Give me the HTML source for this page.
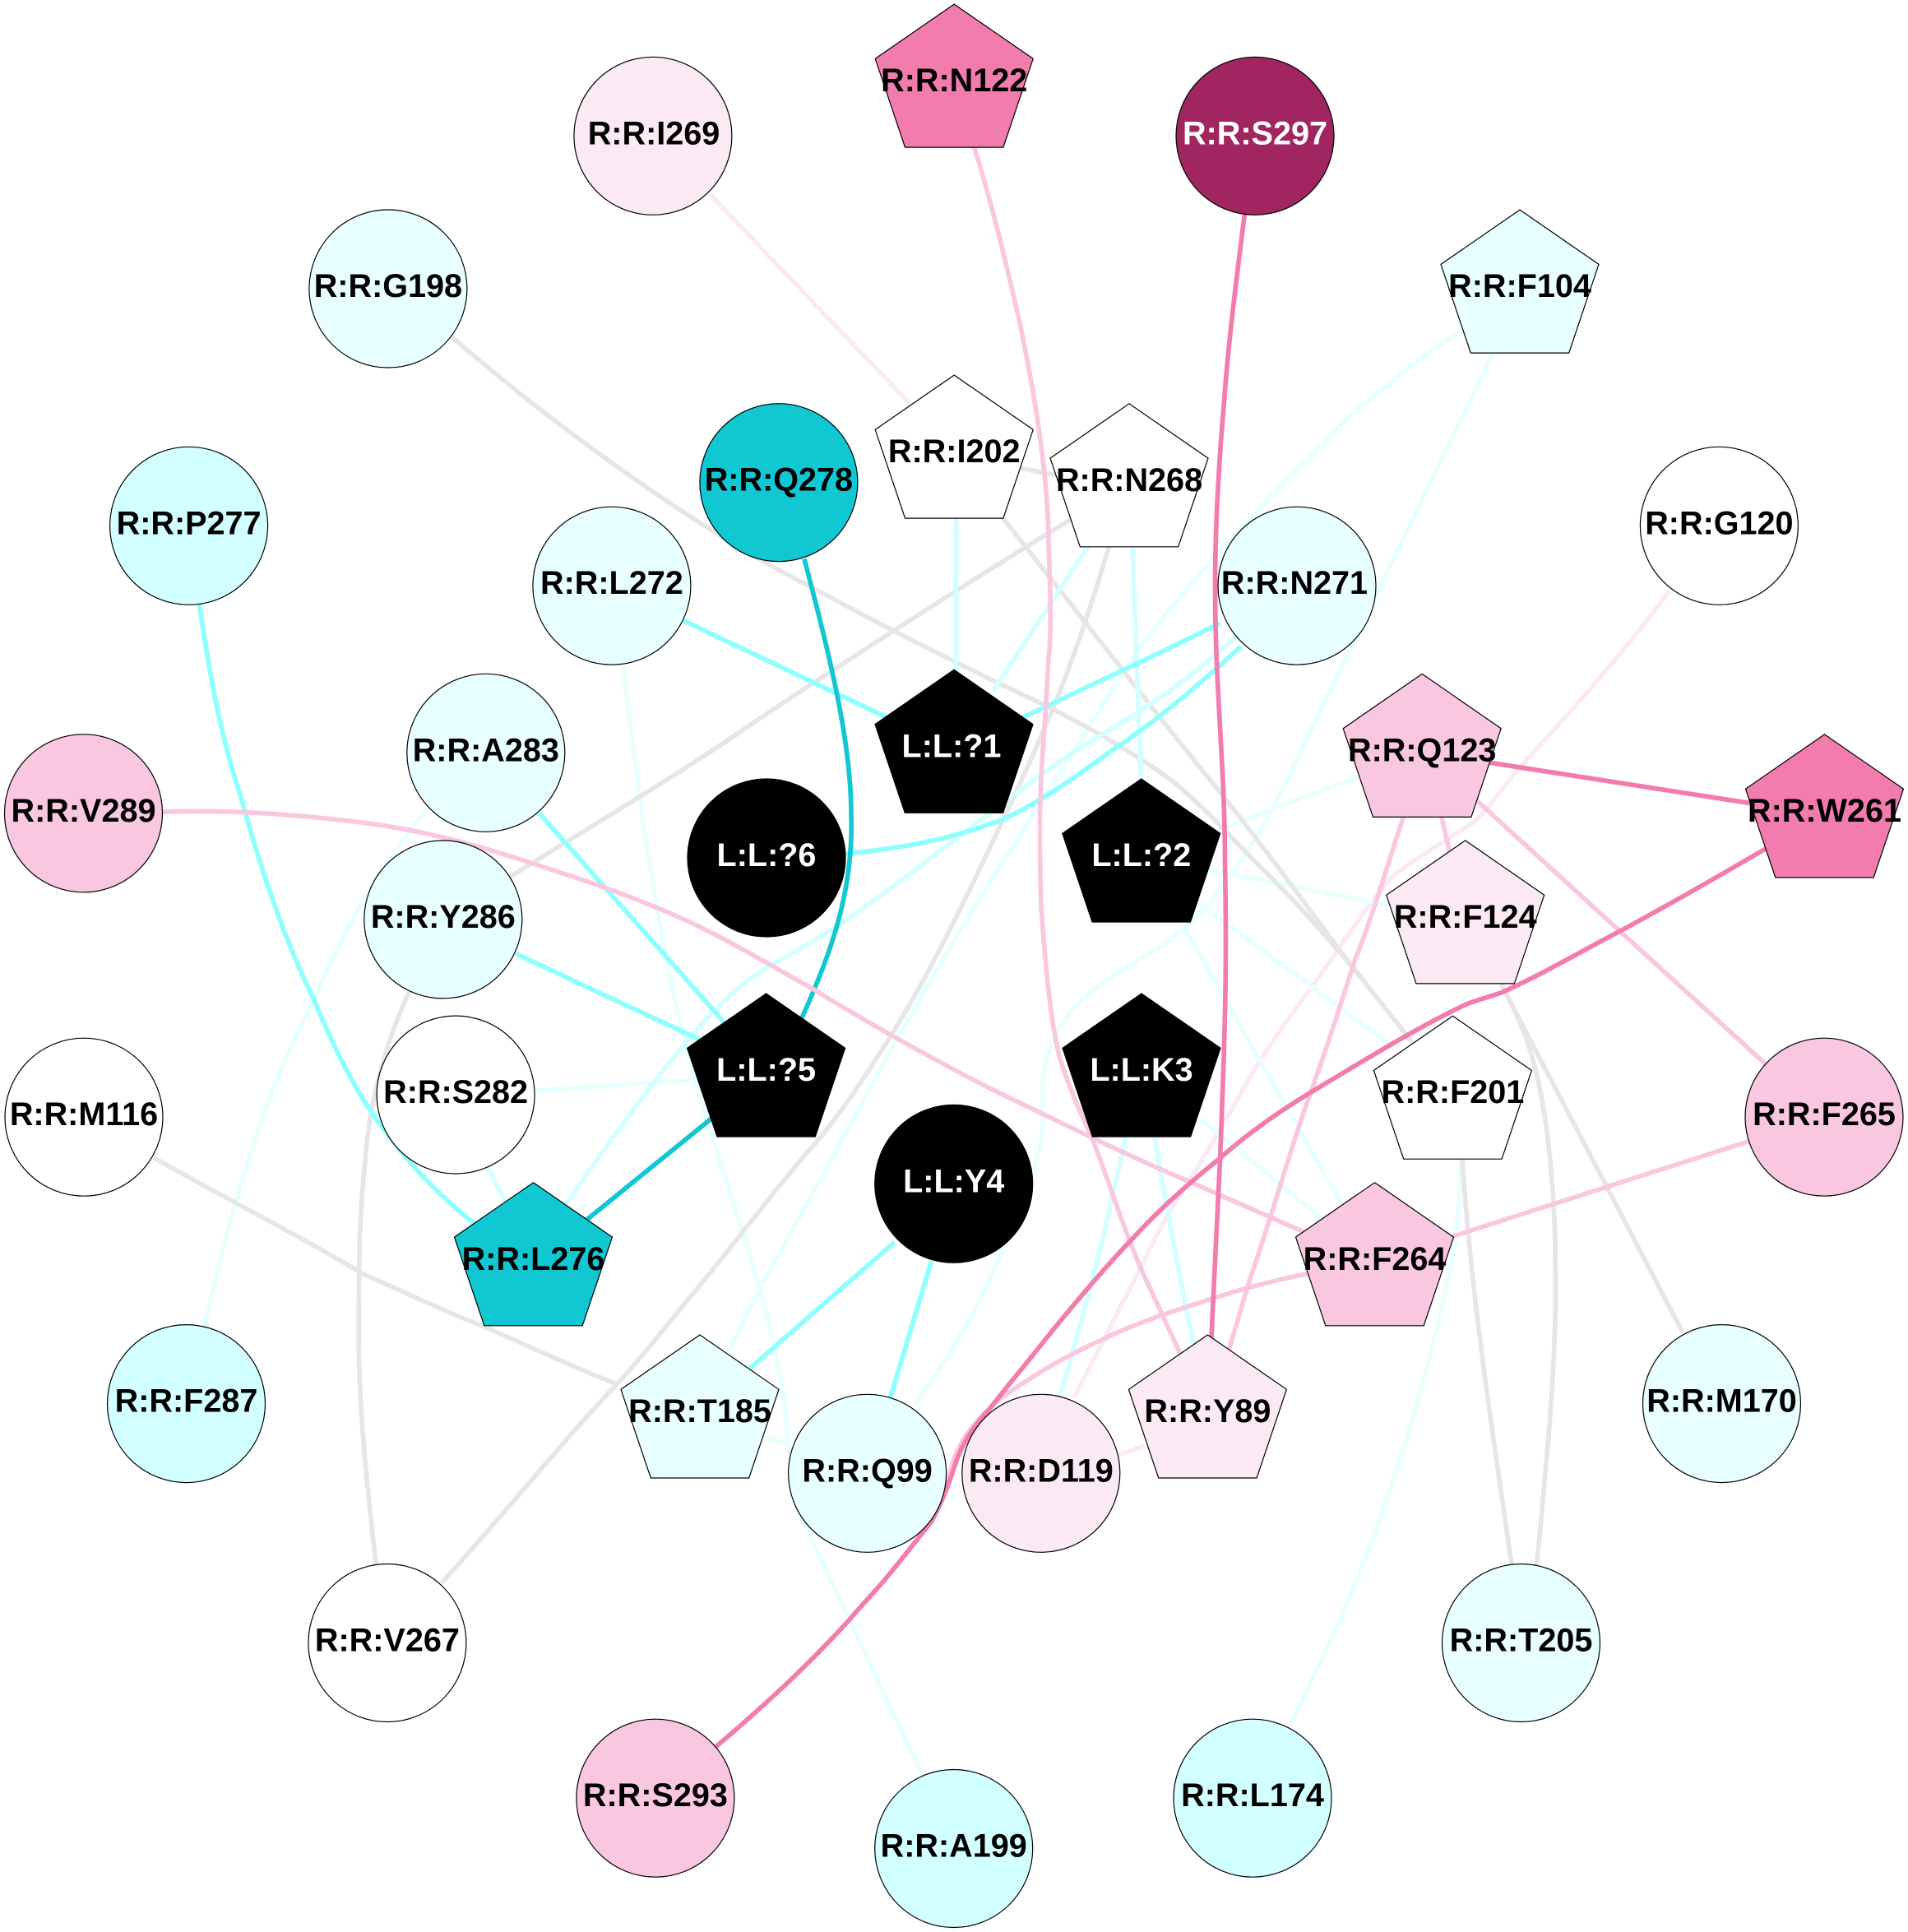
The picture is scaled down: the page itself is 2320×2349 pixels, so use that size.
<!DOCTYPE html>
<html><head><meta charset="utf-8"><title>Network diagram</title>
<style>
html,body{margin:0;padding:0;background:#fff}
svg{display:block}
text{font-family:"Liberation Sans",Arial,sans-serif;font-weight:bold;font-size:39.600px;text-anchor:middle;fill:#000}
.w{fill:#fff}
circle,polygon{stroke:#000;stroke-width:1.2}
path{fill:none;stroke-width:3.8}
.g{stroke:#e6e6e6}.c1{stroke:#e8ffff}.c2{stroke:#d2ffff}.c3{stroke:#8cffff}.t{stroke:#10c7d2}
.p1{stroke:#fbeaf3}.p2{stroke:#f9c7df}.p3{stroke:#f37cae}
</style></head><body>
<svg width="2320" height="2349" viewBox="0 0 2320 2349" xmlns="http://www.w3.org/2000/svg">
<rect width="2320" height="2349" fill="#fff"/>
<g transform="scale(1.5)">
<!-- lightest edges -->
<path class="p1" d="M575,157L745,335"/>
<path class="p1" d="M1353,479C1320,525 1275,575 1231,623C1220,635 1208,655 1194,667C1170,682 1150,695 1132,707.500C1115,725 1100,748 1085,769C1065,800 1035,835 1013,874C1000,895 985,925 960,963C945,985 932,1012 922,1033C905,1065 888,1100 870.500,1133"/>
<path class="p1" d="M905,1180L928,1172"/>
<path class="c1" d="M505,540C515,620 525,700 539,770C555,860 585,945 602,998C615,1040 630,1090 637,1148C640,1180 645,1215 656,1243.500L747,1437.500"/>
<path class="c1" d="M620,1165L640,1171"/>
<path class="c1" d="M345,657C328,678 312,702 296,727C280,755 267,782 253.500,812C240,838 230,860 221,884C210,912 200,945 192,972C182,1005 175,1035 165,1078"/>
<path class="c1" d="M1184,942C1184,975 1180,1010 1173,1041C1160,1100 1145,1155 1126,1209C1105,1275 1075,1340 1046,1397"/>
<path class="c1" d="M1185,268C1155,285 1125,312 1098,334C1085,345 1075,358 1067,366C1040,390 1010,425 989,447C965,475 940,500 918,535C890,575 865,620 843,651C825,680 815,695 800,719C730,830 670,950 617,1042L590,1097"/>
<path class="c1" d="M1212,282C1180,350 1145,420 1115,484C1100,515 1085,545 1067,583C1052,615 1040,640 1025,667C1008,695 990,725 960,752C935,775 905,785 882,806C860,825 848,848 846,871C844,890 847,905 844,922C838,960 820,1000 800,1041C785,1075 765,1105 741.500,1138"/>
<path class="c1" d="M434,884L568,875"/>
<path class="c1" d="M1100,630C1060,645 1025,658 993,671L975,685"/>
<path class="c1" d="M975,705C1025,713 1075,724 1126,734"/>
<path class="c1" d="M973,733L1130,849"/>
<path class="c1" d="M960,752L1087,975"/>
<path class="c1" d="M973,907L1072,988"/>
<!-- gray edges -->
<path class="g" d="M365,272C420,320 480,365 533,401C580,433 620,457 660,477C720,510 790,545 846,571C880,588 915,608 942,627C965,643 990,670 1013,694C1040,720 1068,750 1092,779C1110,800 1125,820 1145,845"/>
<path class="g" d="M810,416L877,501C900,530 950,595 993,647C1025,688 1055,728 1085,769L1145,845"/>
<path class="g" d="M825,379L860,386"/>
<path class="g" d="M870,420C800,462 660,552 590,600C530,640 470,675 410,713"/>
<path class="g" d="M899,443C885,490 865,550 848,587C830,630 815,660 800,692C775,745 750,795 723,838C700,875 680,905 658,930C630,962 603,998 577,1030C552,1060 525,1095 499,1123C450,1175 405,1232 358,1283"/>
<path class="g" d="M331.600,804C320,830 315,845 311,860C302,890 298,915 296,941C292,980 291,1010 291,1050C290,1100 292,1135 294,1160C297,1200 301,1235 305.300,1272"/>
<path class="g" d="M124,938C180,970 240,1000 295,1033C330,1048 360,1063 392,1075C430,1092 465,1108 500,1122"/>
<path class="g" d="M1217,798C1225,812 1232,828 1238,844C1250,880 1255,920 1258,956C1261,990 1261,1025 1261,1058C1260,1105 1257,1150 1252,1200C1250,1225 1248,1250 1245,1272"/>
<path class="g" d="M1185,935C1192,1040 1205,1130 1226,1272"/>
<path class="g" d="M1217,798L1364,1080"/>
<!-- mid cyan -->
<path class="c2" d="M775,418L775,548"/>
<path class="c2" d="M918,441C920,510 923,580 925,635"/>
<path class="c2" d="M395,945L415,985"/>
<path class="c2" d="M1003,515C960,555 920,580 874,607C810,650 740,710 675,753C650,770 630,778 607,794C580,815 555,845 532,875C505,910 480,945 459,976"/>
<path class="c2" d="M882,443L805,560"/>
<path class="c2" d="M912,922C900,985 880,1060 859,1133"/>
<path class="c2" d="M936,922C945,975 955,1030 968,1092"/>
<!-- strong cyan -->
<path class="c3" d="M161.500,490C172,560 180,600 197,652C210,700 230,760 252,805C265,835 280,870 299,898C320,930 350,965 386,993"/>
<path class="c3" d="M554,503L722,583"/>
<path class="c3" d="M989,505C940,530 880,557 826,583"/>
<path class="c3" d="M1006,524C975,552 942,581 907.500,604C878,625 845,650 812,664.500C772,680 730,688 684,692"/>
<path class="c3" d="M437,659L590,832"/>
<path class="c3" d="M418,773L568,843"/>
<path class="c3" d="M725,1007L608,1109"/>
<path class="c3" d="M755,1022L721,1135"/>
<!-- teal -->
<path class="t" d="M652,453C672,530 690,600 690,660C692,720 675,770 650,825C620,865 600,885 575,908L474,990"/>
<!-- pink -->
<path class="p2" d="M1175,1003L1418,925"/>
<path class="p2" d="M785,105C805,165 818,225 826,258.500C840,325 850,390 850,442C852,490 852,520 850,533C848,580 843,625 843,667C843,690 843,710 844,735C848,790 852,830 859,857C866,880 875,900 885,922C900,960 912,1000 927,1033L958,1100"/>
<path class="p2" d="M1140,655C1125,700 1112,745 1098,779C1085,820 1072,860 1058,898C1042,945 1028,995 1013,1037.500L995,1098"/>
<path class="p2" d="M1195,647L1434,865"/>
<path class="p2" d="M1168,660L1175,690"/>
<path class="p2" d="M132,658C170,657 205,658 238,661C275,664 310,668 340,674.500C372,681 402,690 432,700C466,711 500,722 533,736C580,755 620,780 658,801C700,827 750,855 800,881C850,905 910,935 960,956L1058,999"/>
<path class="p2" d="M1062,1032C1020,1040 980,1053 939,1067C922,1073 907,1079 891,1087C862,1100 832,1118 809.500,1135C800,1143 790,1153 782,1165C777,1173 774,1180 772,1186C770,1195 767,1203 765,1209"/>
<!-- dark pink -->
<path class="p3" d="M1010,165C1003,220 996,275 992.500,323C988,375 985,430 985,476C985,560 993,620 993,700C995,800 992,860 989,940C986,1000 984,1040 982,1085"/>
<path class="p3" d="M1445,680L1431.700,687.700C1390,712 1350,735 1312.700,755C1280,772 1250,790 1217.400,804.400C1205,809 1198,810 1186.800,814.800C1145,835 1105,860 1064.300,884.300C1035,902 1010,920 988.700,939C965,958 940,980 919,1003C893,1030 868,1060 843.500,1090.500C830,1108 815,1125 802.700,1141.500C790,1155 780,1170 775,1185C770,1200 765,1215 755,1233.400C740,1252 725,1272 710.900,1287.700C700,1300 695,1305 689.800,1311.500C655,1350 620,1382 581,1415.300L570,1425"/>
<path class="p3" d="M1200,617L1425,652"/>
</g>

<!-- circles -->
<circle cx="793.900" cy="165.300" r="96" fill="#fbeaf3"/><text x="795" y="175.300">R:R:I269</text>
<circle cx="1526" cy="165.300" r="96" fill="#a12560"/><text class="w" x="1526" y="175.300">R:R:S297</text>
<circle cx="471.900" cy="351" r="96" fill="#e8ffff"/><text x="471.900" y="361">R:R:G198</text>
<circle cx="946.900" cy="586.700" r="96" fill="#10c7d2"/><text x="946.900" y="596.700">R:R:Q278</text>
<circle cx="229.600" cy="639.300" r="96" fill="#d2ffff"/><text x="229.600" y="649.300">R:R:P277</text>
<circle cx="743.900" cy="712.200" r="96" fill="#e8ffff"/><text x="743.900" y="722.200">R:R:L272</text>
<circle cx="1577" cy="712.200" r="96" fill="#e8ffff"/><text x="1574" y="722.200">R:R:N271</text>
<circle cx="2090.400" cy="639.300" r="96" fill="#fff"/><text x="2090.400" y="649.300">R:R:G120</text>
<circle cx="590.800" cy="915.300" r="96" fill="#e8ffff"/><text x="590.800" y="925.300">R:R:A283</text>
<circle cx="101.500" cy="988.800" r="96" fill="#f9c7df"/><text x="101.500" y="998.800">R:R:V289</text>
<circle cx="932" cy="1043" r="96" fill="#000"/><text class="w" x="932" y="1053">L:L:?6</text>
<circle cx="538.800" cy="1117.900" r="96" fill="#e8ffff"/><text x="538.800" y="1127.900">R:R:Y286</text>
<circle cx="554.100" cy="1331.100" r="96" fill="#fff"/><text x="554.100" y="1341.100">R:R:S282</text>
<circle cx="102" cy="1358.200" r="96" fill="#fff"/><text x="102" y="1368.200">R:R:M116</text>
<circle cx="2218" cy="1358.200" r="96" fill="#f9c7df"/><text x="2218" y="1368.200">R:R:F265</text>
<circle cx="1159.700" cy="1439.300" r="96" fill="#000"/><text class="w" x="1159.700" y="1449.300">L:L:Y4</text>
<circle cx="226.500" cy="1706.600" r="96" fill="#d2ffff"/><text x="226.500" y="1716.600">R:R:F287</text>
<circle cx="2093.500" cy="1706.600" r="96" fill="#e8ffff"/><text x="2093.500" y="1716.600">R:R:M170</text>
<circle cx="1054.600" cy="1791.300" r="96" fill="#e8ffff"/><text x="1054.600" y="1801.300">R:R:Q99</text>
<circle cx="1265.800" cy="1791.300" r="96" fill="#fbeaf3"/><text x="1265.800" y="1801.300">R:R:D119</text>
<circle cx="470.900" cy="1997.500" r="96" fill="#fff"/><text x="470.900" y="2007.500">R:R:V267</text>
<circle cx="1849.500" cy="1997.500" r="96" fill="#e8ffff"/><text x="1849.500" y="2007.500">R:R:T205</text>
<circle cx="796.900" cy="2186.200" r="96" fill="#f9c7df"/><text x="796.900" y="2196.200">R:R:S293</text>
<circle cx="1523" cy="2186.200" r="96" fill="#d2ffff"/><text x="1523" y="2196.200">R:R:L174</text>
<circle cx="1159.700" cy="2247.500" r="96" fill="#d2ffff"/><text x="1159.700" y="2257.500">R:R:A199</text>

<!-- pentagons -->
<g transform="translate(1160.200,5.100)"><polygon points="0,0 96,66.300 59.700,174 -59.700,174 -96,66.300" fill="#f37cae"/><text y="106">R:R:N122</text></g>
<g transform="translate(1848,255.100)"><polygon points="0,0 96,66.300 59.700,174 -59.700,174 -96,66.300" fill="#e8ffff"/><text y="106">R:R:F104</text></g>
<g transform="translate(1160.200,456.100)"><polygon points="0,0 96,66.300 59.700,174 -59.700,174 -96,66.300" fill="#fff"/><text y="106">R:R:I202</text></g>
<g transform="translate(1373,490.800)"><polygon points="0,0 96,66.300 59.700,174 -59.700,174 -96,66.300" fill="#fff"/><text y="106">R:R:N268</text></g>
<g transform="translate(1160,814.300)"><polygon points="0,0 96,66.300 59.700,174 -59.700,174 -96,66.300" fill="#000"/><text class="w" x="-3" y="106">L:L:?1</text></g>
<g transform="translate(1729.200,819.400)"><polygon points="0,0 96,66.300 59.700,174 -59.700,174 -96,66.300" fill="#f9c7df"/><text y="106">R:R:Q123</text></g>
<g transform="translate(2218.500,892.900)"><polygon points="0,0 96,66.300 59.700,174 -59.700,174 -96,66.300" fill="#f37cae"/><text y="106">R:R:W261</text></g>
<g transform="translate(1387.800,947)"><polygon points="0,0 96,66.300 59.700,174 -59.700,174 -96,66.300" fill="#000"/><text class="w" y="106">L:L:?2</text></g>
<g transform="translate(1781.700,1021.900)"><polygon points="0,0 96,66.300 59.700,174 -59.700,174 -96,66.300" fill="#fbeaf3"/><text y="106">R:R:F124</text></g>
<g transform="translate(931.600,1208)"><polygon points="0,0 96,66.300 59.700,174 -59.700,174 -96,66.300" fill="#000"/><text class="w" y="106">L:L:?5</text></g>
<g transform="translate(1388,1208)"><polygon points="0,0 96,66.300 59.700,174 -59.700,174 -96,66.300" fill="#000"/><text class="w" y="106">L:L:K3</text></g>
<g transform="translate(1766.400,1235.200)"><polygon points="0,0 96,66.300 59.700,174 -59.700,174 -96,66.300" fill="#fff"/><text y="106">R:R:F201</text></g>
<g transform="translate(1671.500,1437.800)"><polygon points="0,0 96,66.300 59.700,174 -59.700,174 -96,66.300" fill="#f9c7df"/><text y="106">R:R:F264</text></g>
<g transform="translate(648.500,1437.800)"><polygon points="0,0 96,66.300 59.700,174 -59.700,174 -96,66.300" fill="#10c7d2"/><text y="106">R:R:L276</text></g>
<g transform="translate(851,1623)"><polygon points="0,0 96,66.300 59.700,174 -59.700,174 -96,66.300" fill="#e8ffff"/><text y="106">R:R:T185</text></g>
<g transform="translate(1468.400,1623)"><polygon points="0,0 96,66.300 59.700,174 -59.700,174 -96,66.300" fill="#fbeaf3"/><text y="106">R:R:Y89</text></g>
</svg>
</body></html>
